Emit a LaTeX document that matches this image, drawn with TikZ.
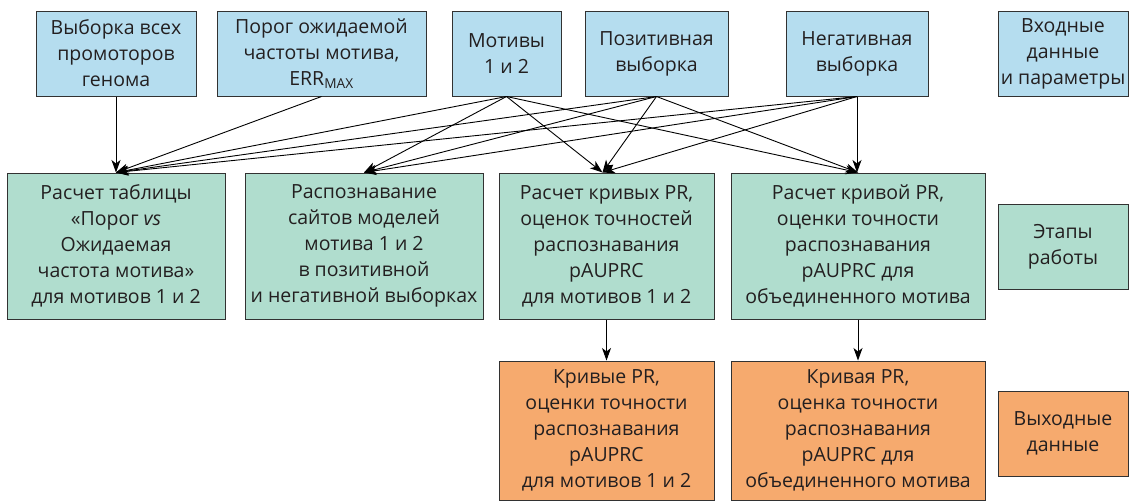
\documentclass[tikz,border=0pt]{standalone}
\usepackage{fontspec}
\setmainfont{Open Sans}
\usetikzlibrary{arrows.meta}
\definecolor{cblue}{RGB}{181,221,239}
\definecolor{cgreen}{RGB}{176,221,206}
\definecolor{corange}{RGB}{246,170,110}
\definecolor{cborder}{RGB}{50,50,50}
\definecolor{ctext}{RGB}{35,31,32}
\begin{document}
\begin{tikzpicture}[x=1pt,y=-1pt,
 box/.style={draw=cborder, line width=1pt, align=center, inner sep=0pt, text=ctext,
   font=\fontsize{19.5}{26}\selectfont},
 inbox/.style={box, fill=cblue, minimum height=85pt},
 stagebox/.style={box, fill=cgreen},
 outbox/.style={box, fill=corange},
 arr/.style={-{Stealth[length=12.5pt,width=9pt,inset=3.5pt]}, line width=0.9pt, black},
]
\useasboundingbox (0,0) rectangle (1129,501);
% input row
\node[inbox, minimum width=160pt] (b1) at (116,53.5) {Выборка всех\\промоторов\\генома};
\node[inbox, minimum width=209pt] (b2) at (321.5,53.5) {Порог ожидаемой\\частоты мотива,\\ERR\textsubscript{MAX}};
\node[inbox, minimum width=109pt] (b3) at (506.5,53.5) {Мотивы\\1 и 2};
\node[inbox, minimum width=143pt] (b4) at (656.5,53.5) {Позитивная\\выборка};
\node[inbox, minimum width=142pt] (b5) at (857,53.5) {Негативная\\выборка};
\node[inbox, minimum width=130pt] (b6) at (1063,53.5) {Входные\\данные\\и параметры};
% stages row
\node[stagebox, minimum width=218pt, minimum height=146pt] (g1) at (116,246) {Расчет таблицы\\«Порог \textit{vs}\\Ожидаемая\\частота мотива»\\для мотивов 1 и 2};
\node[stagebox, minimum width=238pt, minimum height=146pt] (g2) at (364,246) {Распознавание\\сайтов моделей\\мотива 1 и 2\\в позитивной\\и негативной выборках};
\node[stagebox, minimum width=215pt, minimum height=146pt] (g3) at (606.5,246) {Расчет кривых PR,\\оценок точностей\\распознавания\\pAUPRC\\для мотивов 1 и 2};
\node[stagebox, minimum width=254pt, minimum height=146pt] (g4) at (858,246) {Расчет кривой PR,\\оценки точности\\распознавания\\pAUPRC для\\объединенного мотива};
\node[stagebox, minimum width=130pt, minimum height=85pt] (g5) at (1063,246.5) {Этапы\\работы};
% output row
\node[outbox, minimum width=215pt, minimum height=139pt] (o1) at (606.5,430.5) {Кривые PR,\\оценки точности\\распознавания\\pAUPRC\\для мотивов 1 и 2};
\node[outbox, minimum width=254pt, minimum height=139pt] (o2) at (858,430.5) {Кривая PR,\\оценка точности\\распознавания\\pAUPRC для\\объединенного мотива};
\node[outbox, minimum width=130pt, minimum height=85pt] (o3) at (1063,433.5) {Выходные\\данные};
% connectors
\draw[arr] (b1.south) -- (g1.north);
\draw[arr] (b2.south) -- (g1.north);
\draw[arr] (b3.south) -- (g1.north);
\draw[arr] (b4.south) -- (g1.north);
\draw[arr] (b5.south) -- (g1.north);
\draw[arr] (b3.south) -- (g2.north);
\draw[arr] (b4.south) -- (g2.north);
\draw[arr] (b5.south) -- (g2.north);
\draw[arr] (b3.south) -- ([xshift=-4pt]g3.north);
\draw[arr] (b4.south) -- ([xshift=-4pt]g3.north);
\draw[arr] (b5.south) -- ([xshift=-4pt]g3.north);
\draw[arr] (b3.south) -- (g4.north);
\draw[arr] (b4.south) -- (g4.north);
\draw[arr] (b5.south) -- (b5.south |- g4.north);
\draw[arr] (g3.south) -- (g3.south |- o1.north);
\draw[arr] (g4.south) -- (g4.south |- o2.north);
\end{tikzpicture}
\end{document}
